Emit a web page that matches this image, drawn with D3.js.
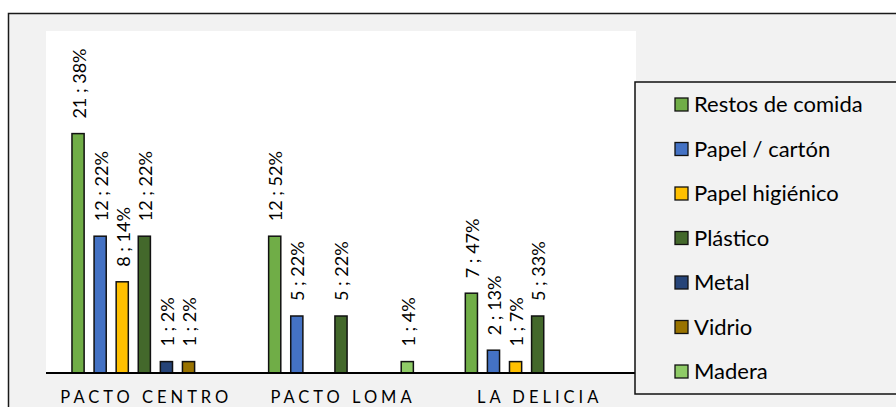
<!DOCTYPE html>
<html>
<head>
<meta charset="utf-8">
<script src="https://cdn.jsdelivr.net/npm/d3@7"></script>
<style>
  html, body { margin: 0; padding: 0; background: #ffffff; }
  svg { display: block; }
  text { font-family: Lato, "Liberation Sans", sans-serif; fill: #000; }
</style>
</head>
<body>
<svg id="chart" width="896" height="407"></svg>
<script>
// Sampling sites
const categories = ["PACTO CENTRO", "PACTO LOMA", "LA DELICIA"];

// Waste types, in legend order
const seriesNames = ["Restos de comida", "Papel / cartón", "Papel higiénico", "Plástico", "Metal", "Vidrio", "Madera"];
const seriesColors = ["#70ad47", "#4472c4", "#ffc000", "#43682b", "#264478", "#997300", "#8fcb67"];

// Item counts per site (null = none found)
const restosCount   = [21, 12, 7];
const papelCount    = [12, 5, 2];
const higienCount   = [8, null, 1];
const plasticoCount = [12, 5, 5];
const metalCount    = [1, null, null];
const vidrioCount   = [1, null, null];
const maderaCount   = [null, 1, null];

// Share of the site's total, in percent
const restosPct   = [38, 52, 47];
const papelPct    = [22, 22, 13];
const higienPct   = [14, null, 7];
const plasticoPct = [22, 22, 33];
const metalPct    = [2, null, null];
const vidrioPct   = [2, null, null];
const maderaPct   = [null, 4, null];

const counts = [restosCount, papelCount, higienCount, plasticoCount, metalCount, vidrioCount, maderaCount];
const pcts = [restosPct, papelPct, higienPct, plasticoPct, metalPct, vidrioPct, maderaPct];

const svg = d3.select("#chart");

// Chart frame
svg.append("rect")
  .attr("x", 8.5).attr("y", 13.5)
  .attr("width", 900).attr("height", 420)
  .attr("fill", "#f2f2f2")
  .attr("stroke", "#1a1a1a").attr("stroke-width", 1.5);

const plot = { left: 46, right: 636, top: 31, bottom: 373 };

svg.append("rect")
  .attr("x", plot.left).attr("y", plot.top)
  .attr("width", plot.right - plot.left).attr("height", plot.bottom - plot.top)
  .attr("fill", "#ffffff");

const x0 = d3.scaleBand().domain(categories).range([plot.left, plot.right]);
const x1 = d3.scaleBand().domain(seriesNames)
  .range([21, x0.bandwidth() - 21])
  .paddingInner(0.45).paddingOuter(0.225);
const y = d3.scaleLinear().domain([0, 30]).range([plot.bottom, plot.top]);

const cells = [];
seriesNames.forEach((s, si) => {
  categories.forEach((c, ci) => {
    const v = counts[si][ci];
    if (v != null) cells.push({ series: s, si, cat: c, value: v, pct: pcts[si][ci] });
  });
});

const bars = svg.append("g");
bars.selectAll("rect")
  .data(cells)
  .join("rect")
  .attr("x", d => x0(d.cat) + x1(d.series))
  .attr("y", d => y(d.value))
  .attr("width", x1.bandwidth())
  .attr("height", d => y(0) - y(d.value))
  .attr("fill", d => seriesColors[d.si])
  .attr("stroke", "#111")
  .attr("stroke-width", 1.5);

// Value labels, rotated, above each bar
bars.selectAll("text")
  .data(cells)
  .join("text")
  .attr("transform", d => {
    const cx = x0(d.cat) + x1(d.series) + x1.bandwidth() / 2 + 1;
    return `translate(${cx},${y(d.value) - 15}) rotate(-90)`;
  })
  .attr("dy", "0.36em")
  .attr("font-size", 18)
  .text(d => `${d.value} ; ${d.pct}%`);

// Category axis
const xAxis = svg.append("g")
  .attr("transform", `translate(0,${plot.bottom})`)
  .call(d3.axisBottom(x0).tickSize(0).tickPadding(0));
xAxis.select(".domain").remove();
xAxis.append("line")
  .attr("x1", plot.left).attr("x2", plot.right)
  .attr("stroke", "#000").attr("stroke-width", 1.8);
xAxis.selectAll(".tick text")
  .attr("y", 30)
  .attr("dy", 0)
  .attr("x", 2)
  .attr("font-family", "Lato, 'Liberation Sans', sans-serif")
  .attr("font-size", 16.5)
  .attr("letter-spacing", 4)
  .attr("fill", "#000");

// Legend
const legend = svg.append("g");
legend.append("rect")
  .attr("x", 635).attr("y", 82)
  .attr("width", 300).attr("height", 312)
  .attr("fill", "#f2f2f2")
  .attr("stroke", "#111").attr("stroke-width", 1.5);

const ly = d3.scalePoint().domain(seriesNames).range([104.5, 371.5]);
const items = legend.selectAll("g.item")
  .data(seriesNames)
  .join("g").attr("class", "item")
  .attr("transform", d => `translate(675,${ly(d)})`);
items.append("rect")
  .attr("x", 0).attr("y", -6.5)
  .attr("width", 13).attr("height", 13)
  .attr("fill", (d, i) => seriesColors[i])
  .attr("stroke", "#111").attr("stroke-width", 1.3);
items.append("text")
  .attr("x", 19)
  .attr("dy", "0.36em")
  .attr("font-size", 22)
  .text(d => d);
</script>
</body>
</html>
